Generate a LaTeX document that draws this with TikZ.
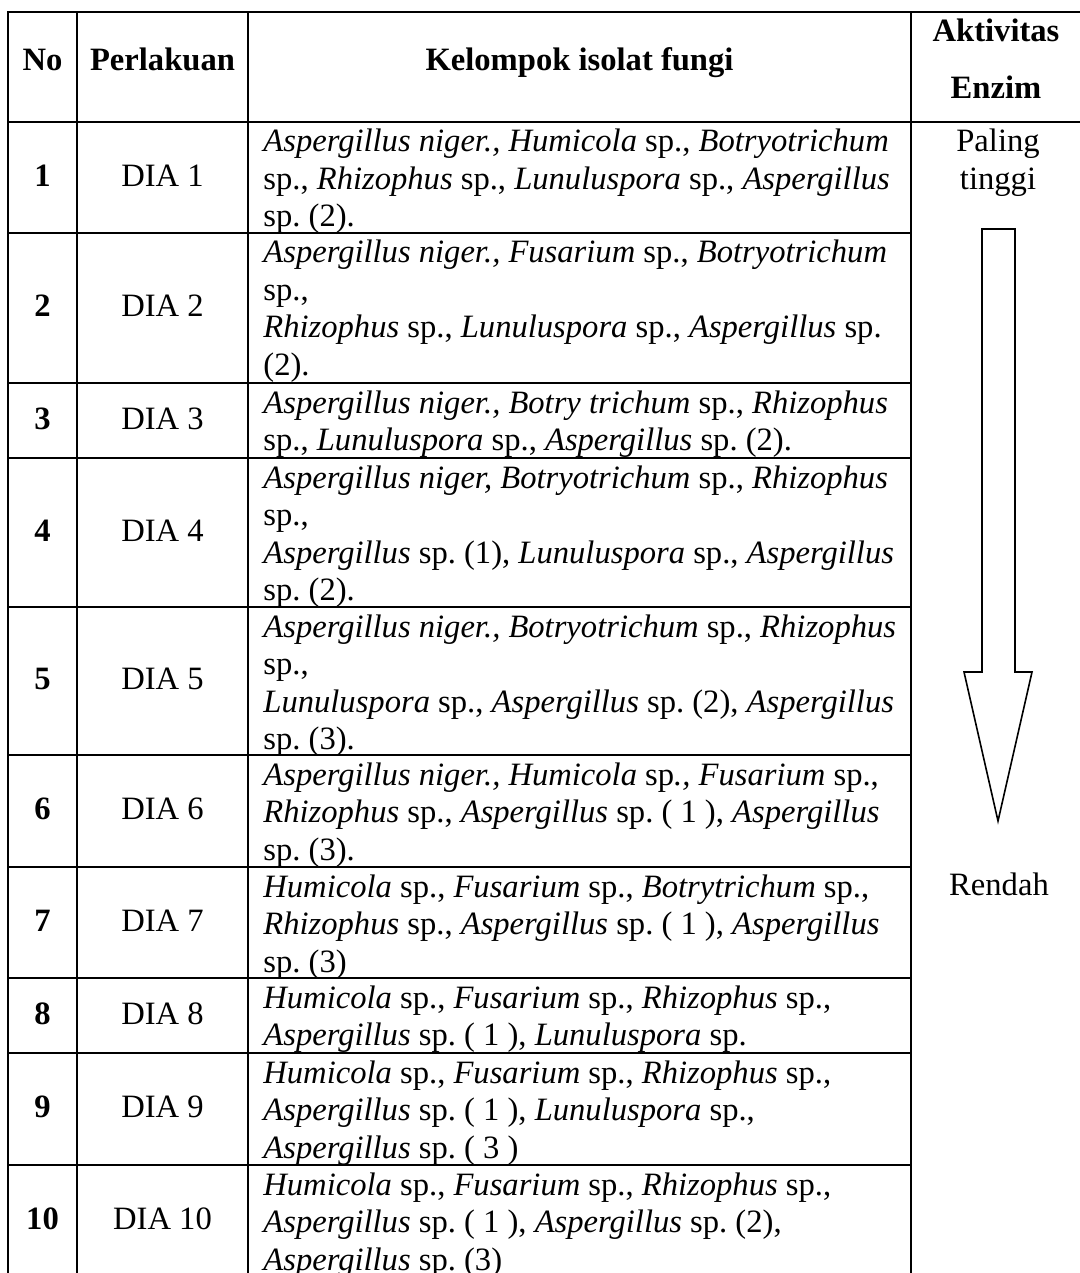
\documentclass[tikz,border=0pt]{standalone}
\usepackage{fontspec}
\setmainfont{Liberation Serif}
\frenchspacing
\newcommand{\myrows}[1]{\begin{tabular}[t]{@{}l@{}}#1\end{tabular}}
\tikzset{
  grid/.style={line width=1.3pt, line cap=rect},
  txt/.style={inner sep=0pt, font=\fontsize{16.3}{18.75}\selectfont},
  fungi/.style={txt, anchor=base west},
  cellc/.style={txt, anchor=center},
  headc/.style={txt, anchor=base, font=\fontsize{16.3}{18.75}\selectfont\bfseries},
  bignum/.style={txt, anchor=center, font=\fontsize{16.3}{18.75}\selectfont\bfseries},
  arrowshape/.style={line width=0.8pt, line join=miter, fill=white}
}
\begin{document}
\begin{tikzpicture}[x=0.5pt,y=-0.5pt]
\useasboundingbox (0,0) rectangle (1080,1273);
\fill[white] (0,0) rectangle (1080,1273);
% horizontal lines
\draw[grid] (8,12) -- (1080,12);
\draw[grid] (8,122) -- (1080,122);
\foreach \y in {233,383,458,607,755,867,978,1053,1165}
  \draw[grid] (8,\y) -- (911,\y);
% vertical lines
\foreach \x in {8,77,248,911}
  \draw[grid] (\x,12) -- (\x,1280);
% header
\node[headc] (hNo) at (42.5,71) {No};
\node[headc] (hPer) at (162.5,71) {Perlakuan};
\node[headc] (hKel) at (579.5,71) {Kelompok isolat fungi};
\node[headc] (hAkt) at (996,42) {Aktivitas};
\node[headc] (hEnz) at (996,99) {Enzim};
% column 1 and 2
\foreach \n/\a/\b in {1/122/233,2/233/383,3/383/458,4/458/607,5/607/755,6/755/867,7/867/978,8/978/1053,9/1053/1165,10/1165/1276}{
  \node[bignum] (no\n) at (42.5,{(\a+\b)/2-2}) {\n};
  \node[cellc] (dia\n) at (162.5,{(\a+\b)/2-2}) {DIA \n};
}
% column 3
\node[fungi] (f1) at (263,152) {\myrows{\textit{Aspergillus niger.,} \textit{Humicola} sp., \textit{Botryotrichum}\\ sp., \textit{Rhizophus} sp., \textit{Lunuluspora} sp., \textit{Aspergillus}\\ sp. (2).}};
\node[fungi] (f2) at (263,263) {\myrows{\textit{Aspergillus niger., Fusarium} sp., \textit{Botryotrichum}\\ sp.,\\ \textit{Rhizophus} sp., \textit{Lunuluspora} sp., \textit{Aspergillus} sp.\\ (2).}};
\node[fungi] (f3) at (263,413) {\myrows{\textit{Aspergillus niger., Botry trichum} sp., \textit{Rhizophus}\\ sp., \textit{Lunuluspora} sp., \textit{Aspergillus} sp. (2).}};
\node[fungi] (f4) at (263,488) {\myrows{\textit{Aspergillus niger, Botryotrichum} sp., \textit{Rhizophus}\\ sp.,\\ \textit{Aspergillus} sp. (1), \textit{Lunuluspora} sp., \textit{Aspergillus}\\ sp. (2).}};
\node[fungi] (f5) at (263,637) {\myrows{\textit{Aspergillus niger., Botryotrichum} sp., \textit{Rhizophus}\\ sp.,\\ \textit{Lunuluspora} sp., \textit{Aspergillus} sp. (2), \textit{Aspergillus}\\ sp. (3).}};
\node[fungi] (f6) at (263,785) {\myrows{\textit{Aspergillus niger., Humicola} sp\textit{.,} \textit{Fusarium} sp.,\\ \textit{Rhizophus} sp., \textit{Aspergillus} sp. ( 1 ), \textit{Aspergillus}\\ sp. (3).}};
\node[fungi] (f7) at (263,897) {\myrows{\textit{Humicola} sp., \textit{Fusarium} sp., \textit{Botrytrichum} sp.,\\ \textit{Rhizophus} sp., \textit{Aspergillus} sp. ( 1 ), \textit{Aspergillus}\\ sp. (3)}};
\node[fungi] (f8) at (263,1008) {\myrows{\textit{Humicola} sp., \textit{Fusarium} sp., \textit{Rhizophus} sp.,\\ \textit{Aspergillus} sp. ( 1 ), \textit{Lunuluspora} sp.}};
\node[fungi] (f9) at (263,1083) {\myrows{\textit{Humicola} sp., \textit{Fusarium} sp., \textit{Rhizophus} sp.,\\ \textit{Aspergillus} sp. ( 1 ), \textit{Lunuluspora} sp.,\\ \textit{Aspergillus} sp. ( 3 )}};
\node[fungi] (f10) at (263,1195) {\myrows{\textit{Humicola} sp., \textit{Fusarium} sp., \textit{Rhizophus} sp.,\\ \textit{Aspergillus} sp. ( 1 ), \textit{Aspergillus} sp. (2),\\ \textit{Aspergillus} sp. (3)}};
% column 4
\node[txt, anchor=base] (hi1) at (998,152) {Paling};
\node[txt, anchor=base] (hi2) at (998,189.5) {tinggi};
\node[txt, anchor=base] (lo) at (999,895) {Rendah};
% arrow
\draw[arrowshape] (982,229) -- (1015,229) -- (1015,672) -- (1032,672) -- (998,821) -- (964,672) -- (982,672) -- cycle;
\end{tikzpicture}
\end{document}
